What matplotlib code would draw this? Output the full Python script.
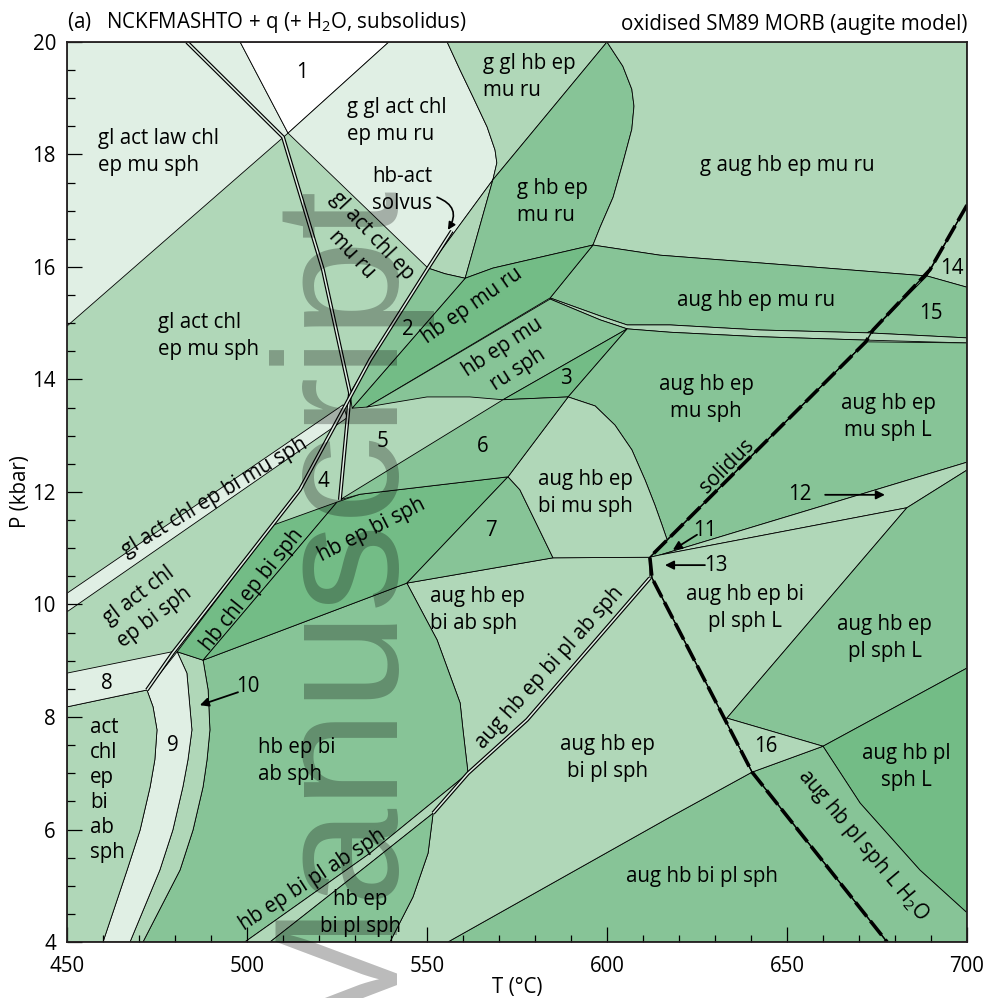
import matplotlib.pyplot as plt
from matplotlib.patches import Polygon

plt.rcParams['font.family'] = ['Open Sans', 'DejaVu Sans']
plt.rcParams['mathtext.fontset'] = 'custom'
plt.rcParams['mathtext.rm'] = 'Open Sans'
plt.rcParams['mathtext.it'] = 'Open Sans:italic'

# field colours, palest to darkest
C_WHITE = '#ffffff'
C_PALE = '#e0efe4'
C_LIGHT = '#b0d7b8'
C_MID = '#87c497'
C_DARK = '#73bc86'

# ------------------------------------------------------------
#   field outlines, (T degC, P kbar)
# ------------------------------------------------------------
law = [(450, 20), (498.1, 20), (511.4, 18.38), (450, 14.95)]
one = [(498.1, 20), (539.4, 20), (511.4, 18.38)]
gglact = [(539.4, 20), (555.6, 20), (559.2, 19.5), (562.8, 19.02), (566.7, 18.49),
          (568.9, 18.08), (569.4, 17.85), (568.3, 17.55), (550.3, 15.98), (511.4, 18.38)]
gglhb = [(555.6, 20), (600, 20), (568.3, 17.55), (560.6, 15.80), (555, 15.88),
         (550.3, 15.98), (568.3, 17.55), (569.4, 17.85), (568.9, 18.08), (566.7, 18.49),
         (562.8, 19.02), (559.2, 19.5)]
ghb_curve = [(600, 20), (604.4, 19.57), (606.9, 19.16), (607.5, 18.86), (606.9, 18.45),
             (604.4, 17.85), (601.7, 17.24), (598.1, 16.71), (596.1, 16.39)]
ghb = ghb_curve + [(568.3, 15.98), (560.6, 15.80), (568.3, 17.55)]
gaug = [(700, 20), (700, 17.10), (689.7, 15.95), (688.9, 15.84), (661.1, 15.98),
        (614.7, 16.21), (596.1, 16.39)] + ghb_curve[::-1]
f14 = [(688.9, 15.84), (700, 17.10), (700, 15.64)]
lens_top = [(584.2, 15.45), (598.1, 15.13), (605.6, 14.97), (617.5, 14.97),
            (642.5, 14.88), (672.2, 14.83), (700, 14.74)]
lens_bot = [(584.2, 15.43), (598.1, 15.06), (605.6, 14.90), (617.5, 14.84),
            (642.5, 14.76), (672.2, 14.70), (700, 14.65)]
lens = lens_top + lens_bot[::-1]
augru = [(596.1, 16.39), (614.7, 16.21), (661.1, 15.98), (688.9, 15.84),
         (673.9, 14.88), (672.2, 14.83)] + lens_top[:5][::-1]
f15 = [(688.9, 15.84), (700, 15.64), (700, 14.74), (672.2, 14.83), (673.9, 14.88)]
hbepmuru = [(560.6, 15.80), (568.3, 15.98), (596.1, 16.39), (584.2, 15.45),
            (533.3, 13.51), (529.2, 13.49)]
f2 = [(550.3, 15.98), (555, 15.88), (560.6, 15.80), (529.2, 13.49),
      (528.6, 13.76), (534.2, 14.35)]
hbepmurusph = [(533.3, 13.51), (584.2, 15.43), (598.1, 15.06), (605.6, 14.90),
               (571.1, 13.64), (561.9, 13.69), (550, 13.69), (539.7, 13.58)]
f3 = [(571.1, 13.64), (605.6, 14.90), (589.2, 13.69)]
arc = [(589.2, 13.69), (596.7, 13.53), (602.2, 13.19), (606.9, 12.75),
       (610.6, 12.21), (613.3, 11.77), (615.3, 11.41), (616.7, 11.15)]
augmusph = [(605.6, 14.90), (617.5, 14.84), (642.5, 14.76), (672.2, 14.70),
            (671.9, 14.67)] + arc[::-1]
augmusphL = [(671.9, 14.67), (700, 14.65), (700, 12.53), (614.7, 10.88), (611.9, 10.84)]
f12 = [(614.7, 10.88), (700, 12.53), (700, 12.39), (683.3, 11.72)]
augbiplsphL = [(611.9, 10.84), (614.7, 10.88), (683.3, 11.72), (633.3, 7.98),
               (632.8, 7.95), (612.5, 10.47)]
augeplsphL = [(683.3, 11.72), (700, 12.39), (700, 8.87), (660, 7.48), (633.3, 7.98)]
augplsphL = [(660, 7.48), (700, 8.87), (700, 4.52), (686.9, 5.28), (670.3, 6.47)]
augplsphLH2O = [(640.3, 7.02), (660, 7.48), (670.3, 6.47), (686.9, 5.28),
                (700, 4.52), (700, 4), (677.8, 4)]
f16 = [(633.3, 7.98), (660, 7.48), (640.3, 7.02), (632.8, 7.95)]
augbiplsph = [(555.8, 4), (617.5, 6.22), (640.3, 7.02), (677.8, 4)]
ab_line = [(551.7, 6.29), (561.4, 7.00), (577.8, 7.95), (611.9, 10.47)]
augepbiplsph = ab_line + [(612.5, 10.47), (632.8, 7.95), (640.3, 7.02), (617.5, 6.22),
                          (555.8, 4), (539.7, 4), (546.1, 4.80), (550.3, 5.58)]
ab_arc = [(544.4, 10.38), (552.8, 9.37), (559.2, 8.25), (560, 7.77), (561.4, 7.0)]
augepbiabsph = [(585, 10.83), (611.9, 10.84), (611.9, 10.47), (577.8, 7.95)] + ab_arc[::-1]
right10 = [(487.8, 9.01), (489.2, 8.48), (489.7, 7.77), (488.9, 7.24),
           (487.8, 6.76), (485, 5.99), (481.4, 5.28), (471.1, 4)]
hbepbiabsph = ab_arc + [(534.2, 5.58), (499.4, 4)] + right10[::-1]
band_ab = [(561.4, 7.0), (534.2, 5.58), (499.4, 4), (506.4, 4), (534.2, 5.40), (551.7, 6.29)]
hbepbiplsph = [(506.4, 4), (534.2, 5.40), (551.7, 6.29), (550.3, 5.58),
               (546.1, 4.80), (539.7, 4)]
right9 = [(480.6, 9.16), (483.3, 8.78), (484.7, 7.77), (483.6, 7.24),
          (482.2, 6.76), (479.4, 5.99), (475.8, 5.28), (467.5, 4)]
left9 = [(472.2, 8.48), (473.9, 8.18), (475, 7.77), (474.4, 7.24),
         (473.1, 6.76), (470.3, 5.99), (466.7, 5.28), (460, 4)]
f10 = right9[:1] + right10 + right9[::-1][:-1]
f9 = left9 + right9[::-1]
act = [(450, 8.18)] + left9 + [(450, 4)]
f8 = [(450, 8.78), (480, 9.17), (472.2, 8.48), (450, 8.18)]
hbchl = [(480.6, 9.16), (507.2, 11.41), (525, 11.82), (487.8, 9.01)]
hbepbisph = [(487.8, 9.01), (525, 11.82), (531.4, 11.96), (572.5, 12.27), (544.4, 10.38)]
f7 = [(544.4, 10.38), (572.5, 12.27), (575.8, 12.04), (580.6, 11.41), (585, 10.83)]
augbimusph = [(572.5, 12.27)] + arc + [(611.9, 10.84), (585, 10.83), (580.6, 11.41),
                                       (575.8, 12.04)]
f6 = [(571.1, 13.64), (589.2, 13.69), (572.5, 12.27), (531.4, 11.96), (525.8, 11.86)]
band_bimu = [(450, 10.20), (526.7, 13.55), (527.8, 13.32), (450, 9.87)]

# double lines and the solidus
d1_line = [(483.3, 20), (510, 18.31), (521.1, 15.95), (528.6, 13.76), (525.8, 11.86)]
d2_line = [(556.9, 16.64), (550.3, 15.98), (534.2, 14.35), (514.7, 12.04),
           (479.4, 9.14), (472.2, 8.48)]
solidus = [(700, 17.10), (689.7, 15.95), (673.9, 14.88), (671.9, 14.67),
           (611.9, 10.84), (612.5, 10.47), (632.8, 7.95), (640.3, 7.02), (677.8, 4)]

fields = [
    (law, C_PALE), (one, C_WHITE), (gglact, C_PALE), (gglhb, C_LIGHT), (ghb, C_MID),
    (gaug, C_LIGHT), (f14, C_LIGHT), (augru, C_MID), (f15, C_MID), (lens, C_LIGHT),
    (hbepmuru, C_DARK), (f2, C_MID), (hbepmurusph, C_MID), (f3, C_DARK),
    (augmusph, C_MID), (augmusphL, C_MID), (f12, C_LIGHT), (augbiplsphL, C_LIGHT),
    (augeplsphL, C_MID), (augplsphL, C_DARK), (augplsphLH2O, C_MID), (f16, C_LIGHT),
    (augbiplsph, C_MID), (augepbiplsph, C_LIGHT), (augepbiabsph, C_LIGHT),
    (hbepbiabsph, C_MID), (band_ab, C_LIGHT), (hbepbiplsph, C_MID), (f10, C_LIGHT),
    (f9, C_PALE), (act, C_LIGHT), (f8, C_PALE), (hbchl, C_DARK), (hbepbisph, C_DARK),
    (f7, C_MID), (augbimusph, C_LIGHT), (f6, C_MID), (band_bimu, C_PALE),
]

# field labels: text, T, P, rotation, horizontal alignment
labels = [
    ('gl act law chl\nep mu sph', 458.6, 18.05, 0, 'left'),
    ('1', 515.3, 19.45, 0, 'center'),
    ('g gl act chl\nep mu ru', 527.8, 18.6, 0, 'left'),
    ('g gl hb ep\nmu ru', 565.6, 19.38, 0, 'left'),
    ('g hb ep\nmu ru', 575.0, 17.16, 0, 'left'),
    ('g aug hb ep mu ru', 650.0, 17.81, 0, 'center'),
    ('hb-act\nsolvus', 534.7, 17.37, 0, 'left'),
    ('gl act chl ep\nmu ru', 531.9, 16.39, -47, 'center'),
    ('gl act chl\nep mu sph', 475.3, 14.77, 0, 'left'),
    ('2', 544.7, 14.88, 0, 'center'),
    ('hb ep mu ru', 562.5, 15.32, 35, 'center'),
    ('hb ep mu\nru sph', 573.1, 14.38, 33, 'center'),
    ('3', 588.6, 14.01, 0, 'center'),
    ('aug hb ep mu ru', 641.4, 15.41, 0, 'center'),
    ('15', 690.0, 15.18, 0, 'center'),
    ('14', 695.8, 15.98, 0, 'center'),
    ('aug hb ep\nmu sph', 627.5, 13.67, 0, 'center'),
    ('aug hb ep\nmu sph L', 678.1, 13.33, 0, 'center'),
    ('5', 537.5, 12.89, 0, 'center'),
    ('6', 565.6, 12.80, 0, 'center'),
    ('4', 521.1, 12.18, 0, 'center'),
    ('gl act chl ep bi mu sph', 491.1, 11.91, 31, 'center'),
    ('aug hb ep\nbi mu sph', 580.8, 11.98, 0, 'left'),
    ('solidus', 633.3, 12.46, 45, 'center'),
    ('12', 653.6, 11.95, 0, 'center'),
    ('11', 627.2, 11.32, 0, 'center'),
    ('13', 630.3, 10.70, 0, 'center'),
    ('hb ep bi sph', 534.7, 11.32, 27, 'center'),
    ('7', 567.8, 11.31, 0, 'center'),
    ('gl act chl\nep bi sph', 472.2, 9.97, 37, 'center'),
    ('hb chl ep bi sph', 501.4, 10.26, 51, 'center'),
    ('aug hb ep\nbi ab sph', 550.8, 9.90, 0, 'left'),
    ('aug hb ep bi\npl sph L', 638.3, 9.94, 0, 'center'),
    ('aug hb ep\npl sph L', 677.2, 9.40, 0, 'center'),
    ('8', 461.1, 8.60, 0, 'center'),
    ('10', 500.3, 8.55, 0, 'center'),
    ('9', 479.4, 7.50, 0, 'center'),
    ('act\nchl\nep\nbi\nab\nsph', 456.4, 6.70, 0, 'left'),
    ('hb ep bi\nab sph', 503.1, 7.22, 0, 'left'),
    ('aug hb ep bi pl ab sph', 584.2, 8.87, 48, 'center'),
    ('aug hb ep\nbi pl sph', 600.0, 7.27, 0, 'center'),
    ('16', 644.2, 7.47, 0, 'center'),
    ('aug hb pl\nsph L', 683.1, 7.11, 0, 'center'),
    ('aug hb pl sph L H$_2$O', 671.1, 5.72, -50, 'center'),
    ('aug hb bi pl sph', 626.4, 5.16, 0, 'center'),
    ('hb ep bi pl ab sph', 518.1, 5.10, 33, 'center'),
    ('hb ep\nbi pl sph', 531.4, 4.52, 0, 'center'),
]

# pointer arrows: tail (T, P) -> head (T, P)
pointers = [
    ((497.5, 8.44), (486.9, 8.21)),
    ((660.6, 11.95), (677.2, 11.95)),
    ((625.0, 11.24), (618.3, 10.97)),
    ((627.2, 10.70), (616.1, 10.70)),
]
solvus_tail = (552.8, 17.24)
solvus_head = (555.8, 16.66)

# ------------------------------------------------------------
#   draw
# ------------------------------------------------------------
fig = plt.figure(figsize=(9.84, 9.98), dpi=100)
ax = fig.add_axes([67 / 984, 56 / 998, 900 / 984, 900 / 998])
ax.set_facecolor(C_LIGHT)

for pts, col in fields:
    ax.add_patch(Polygon(pts, closed=True, facecolor=col, edgecolor='black',
                         linewidth=0.6, joinstyle='round'))

for line in (d1_line, d2_line, ab_line):
    xs, ys = zip(*line)
    ax.plot(xs, ys, color='black', lw=2.8, solid_capstyle='butt')
    ax.plot(xs, ys, color=C_PALE, lw=1.1, solid_capstyle='butt')

xs, ys = zip(*solidus)
ax.plot(xs, ys, color='black', lw=1.0)
ax.plot(xs, ys, color='black', lw=2.6, dashes=(5, 1.6))

for txt, t, p, rot, ha in labels:
    spacing = 1.25 if txt.startswith('act') else 1.36
    ax.text(t, p, txt, rotation=rot, ha=ha, va='center', fontsize=14.8,
            multialignment=ha, rotation_mode='anchor', linespacing=spacing)

for tail, head in pointers:
    ax.annotate('', xy=head, xytext=tail,
                arrowprops=dict(arrowstyle='-|>', color='black', lw=1.3,
                                mutation_scale=13, shrinkA=0, shrinkB=0))
ax.annotate('', xy=solvus_head, xytext=solvus_tail,
            arrowprops=dict(arrowstyle='-|>', color='black', lw=1.2,
                            mutation_scale=11, shrinkA=0, shrinkB=0,
                            connectionstyle='arc3,rad=-0.6'))

ax.text(537.8, 17.63, 'Manuscript', rotation=90, rotation_mode='anchor',
        ha='right', va='baseline', fontsize=127, family='Liberation Sans',
        color='black', alpha=0.27, clip_on=False, zorder=10)

ax.set_xlim(450, 700)
ax.set_ylim(4, 20)
ax.set_xticks(range(450, 701, 50))
ax.set_xticks(range(450, 701, 10), minor=True)
ax.set_yticks(range(4, 21, 2))
ax.set_yticks([v / 2 for v in range(8, 41)], minor=True)
ax.tick_params(which='both', direction='in', width=0.9, colors='black',
               labelsize=14.8)
ax.tick_params(axis='x', which='major', length=11, pad=10)
ax.tick_params(axis='x', which='minor', length=5)
ax.tick_params(axis='y', which='major', length=11, pad=8)
ax.tick_params(axis='y', which='minor', length=6)
for s in ax.spines.values():
    s.set_linewidth(1.3)
    s.set_color('#231f20')
    s.set_zorder(5)

ax.set_xlabel('T (°C)', fontsize=14.8, labelpad=0)
ax.set_ylabel('P (kbar)', fontsize=14.8, labelpad=1)
ax.text(0.0, 1.008, '(a)   NCKFMASHTO + q (+ H$_2$O, subsolidus)',
        transform=ax.transAxes, ha='left', va='bottom', fontsize=14.8)
ax.text(1.0, 1.008, 'oxidised SM89 MORB (augite model)',
        transform=ax.transAxes, ha='right', va='bottom', fontsize=14.8)

fig.savefig('out.png', dpi=100)
